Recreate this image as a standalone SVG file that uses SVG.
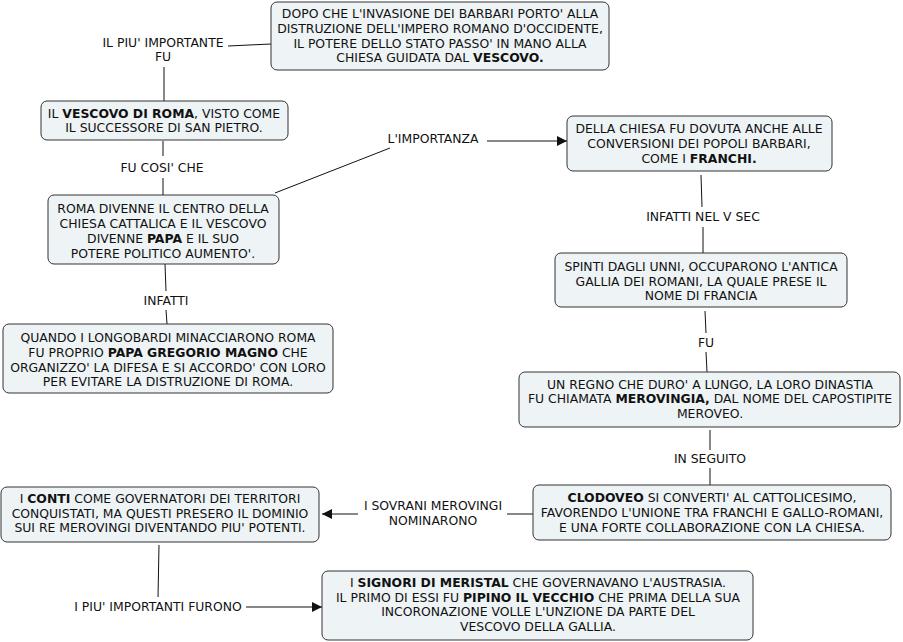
<svg xmlns="http://www.w3.org/2000/svg" width="903" height="642" viewBox="0 0 903 642">
<defs>
<style>
.n{fill:#eef3f5;stroke:#333;stroke-width:1}
.t{font-family:"DejaVu Sans",Verdana,sans-serif;font-size:12.4px;fill:#111;text-anchor:middle}
.b{font-weight:bold}
.c{stroke:#111;stroke-width:1;fill:none}
</style>
<marker id="ah" viewBox="0 0 10 10" refX="10" refY="5" markerWidth="10" markerHeight="10" markerUnits="userSpaceOnUse" orient="auto">
<path d="M0,0 L10,5 L0,10 z" fill="#111"/>
</marker>
</defs>
<rect width="903" height="642" fill="#fff"/>
<g id="connectors">
<line class="c" x1="228" y1="46" x2="271" y2="44"/>
<line class="c" x1="164" y1="67" x2="164" y2="101"/>
<line class="c" x1="163" y1="141" x2="163" y2="156"/>
<line class="c" x1="163" y1="178" x2="163" y2="195"/>
<line class="c" x1="275" y1="193" x2="390" y2="148"/>
<line class="c" x1="487" y1="141" x2="567" y2="141" marker-end="url(#ah)"/>
<line class="c" x1="165" y1="264" x2="166" y2="291"/>
<line class="c" x1="166" y1="310" x2="167" y2="324"/>
<line class="c" x1="701" y1="175" x2="702" y2="207"/>
<line class="c" x1="703" y1="227" x2="703" y2="253"/>
<line class="c" x1="705" y1="311" x2="706" y2="333"/>
<line class="c" x1="706" y1="352" x2="707" y2="372"/>
<line class="c" x1="710" y1="430" x2="710" y2="450"/>
<line class="c" x1="710" y1="468" x2="710" y2="485"/>
<line class="c" x1="533" y1="514" x2="507" y2="514"/>
<line class="c" x1="358" y1="514" x2="322" y2="514" marker-end="url(#ah)"/>
<line class="c" x1="159" y1="545" x2="158" y2="597"/>
<line class="c" x1="246" y1="607" x2="322" y2="607" marker-end="url(#ah)"/>
</g>
<g id="labels">
<text class="t" x="163" y="47">IL PIU' IMPORTANTE</text>
<text class="t" x="163" y="61">FU</text>
<text class="t" x="162" y="172">FU COSI' CHE</text>
<text class="t" x="433" y="143">L'IMPORTANZA</text>
<text class="t" x="166" y="305">INFATTI</text>
<text class="t" x="703" y="221">INFATTI NEL V SEC</text>
<text class="t" x="706" y="347">FU</text>
<text class="t" x="710" y="463">IN SEGUITO</text>
<text class="t" x="433" y="510">I SOVRANI MEROVINGI</text>
<text class="t" x="433" y="525">NOMINARONO</text>
<text class="t" x="158" y="611">I PIU' IMPORTANTI FURONO</text>
</g>
<g id="n1">
<rect class="n" x="271" y="2" width="338" height="68" rx="6"/>
<text class="t" x="440" y="18">DOPO CHE L'INVASIONE DEI BARBARI PORTO' ALLA</text>
<text class="t" x="440" y="33">DISTRUZIONE DELL'IMPERO ROMANO D'OCCIDENTE,</text>
<text class="t" x="440" y="48">IL POTERE DELLO STATO PASSO' IN MANO ALLA</text>
<text class="t" x="440" y="62">CHIESA GUIDATA DAL <tspan class="b">VESCOVO.</tspan></text>
</g>
<g id="n2">
<rect class="n" x="41" y="101" width="247" height="39" rx="6"/>
<text class="t" x="164" y="118">IL <tspan class="b">VESCOVO DI ROMA</tspan>, VISTO COME</text>
<text class="t" x="164" y="132">IL SUCCESSORE DI SAN PIETRO.</text>
</g>
<g id="n3">
<rect class="n" x="48" y="195" width="231" height="69" rx="6"/>
<text class="t" x="163" y="213">ROMA DIVENNE IL CENTRO DELLA</text>
<text class="t" x="163" y="228">CHIESA CATTALICA E IL VESCOVO</text>
<text class="t" x="163" y="243">DIVENNE <tspan class="b">PAPA</tspan> E IL SUO</text>
<text class="t" x="163" y="258">POTERE POLITICO AUMENTO'.</text>
</g>
<g id="n4">
<rect class="n" x="3" y="324" width="330" height="69" rx="6"/>
<text class="t" x="168" y="342">QUANDO I LONGOBARDI MINACCIARONO ROMA</text>
<text class="t" x="168" y="357">FU PROPRIO <tspan class="b">PAPA GREGORIO MAGNO</tspan> CHE</text>
<text class="t" x="168" y="372">ORGANIZZO' LA DIFESA E SI ACCORDO' CON LORO</text>
<text class="t" x="168" y="386">PER EVITARE LA DISTRUZIONE DI ROMA.</text>
</g>
<g id="n5">
<rect class="n" x="567" y="116" width="265" height="55" rx="6"/>
<text class="t" x="699" y="133">DELLA CHIESA FU DOVUTA ANCHE ALLE</text>
<text class="t" x="699" y="148">CONVERSIONI DEI POPOLI BARBARI,</text>
<text class="t" x="699" y="163">COME I <tspan class="b">FRANCHI.</tspan></text>
</g>
<g id="n6">
<rect class="n" x="555" y="253" width="292" height="54" rx="6"/>
<text class="t" x="701" y="271">SPINTI DAGLI UNNI, OCCUPARONO L'ANTICA</text>
<text class="t" x="701" y="286">GALLIA DEI ROMANI, LA QUALE PRESE IL</text>
<text class="t" x="701" y="300">NOME DI FRANCIA</text>
</g>
<g id="n7">
<rect class="n" x="519" y="372" width="381" height="55" rx="6"/>
<text class="t" x="710" y="389">UN REGNO CHE DURO' A LUNGO, LA LORO DINASTIA</text>
<text class="t" x="710" y="403">FU CHIAMATA <tspan class="b">MEROVINGIA,</tspan> DAL NOME DEL CAPOSTIPITE</text>
<text class="t" x="710" y="418">MEROVEO.</text>
</g>
<g id="n8">
<rect class="n" x="533" y="485" width="358" height="55" rx="6"/>
<text class="t" x="712" y="502"><tspan class="b">CLODOVEO</tspan> SI CONVERTI' AL CATTOLICESIMO,</text>
<text class="t" x="712" y="517">FAVORENDO L'UNIONE TRA FRANCHI E GALLO-ROMANI,</text>
<text class="t" x="712" y="532">E UNA FORTE COLLABORAZIONE CON LA CHIESA.</text>
</g>
<g id="n9">
<rect class="n" x="1" y="487" width="318" height="55" rx="6"/>
<text class="t" x="160" y="503">I <tspan class="b">CONTI</tspan> COME GOVERNATORI DEI TERRITORI</text>
<text class="t" x="160" y="518">CONQUISTATI, MA QUESTI PRESERO IL DOMINIO</text>
<text class="t" x="160" y="532">SUI RE MEROVINGI DIVENTANDO PIU' POTENTI.</text>
</g>
<g id="n10">
<rect class="n" x="322" y="571" width="431" height="69" rx="6"/>
<text class="t" x="538" y="587">I <tspan class="b">SIGNORI DI MERISTAL</tspan> CHE GOVERNAVANO L'AUSTRASIA.</text>
<text class="t" x="538" y="602">IL PRIMO DI ESSI FU <tspan class="b">PIPINO IL VECCHIO</tspan> CHE PRIMA DELLA SUA</text>
<text class="t" x="538" y="616">INCORONAZIONE VOLLE L'UNZIONE DA PARTE DEL</text>
<text class="t" x="538" y="631">VESCOVO DELLA GALLIA.</text>
</g>
</svg>
